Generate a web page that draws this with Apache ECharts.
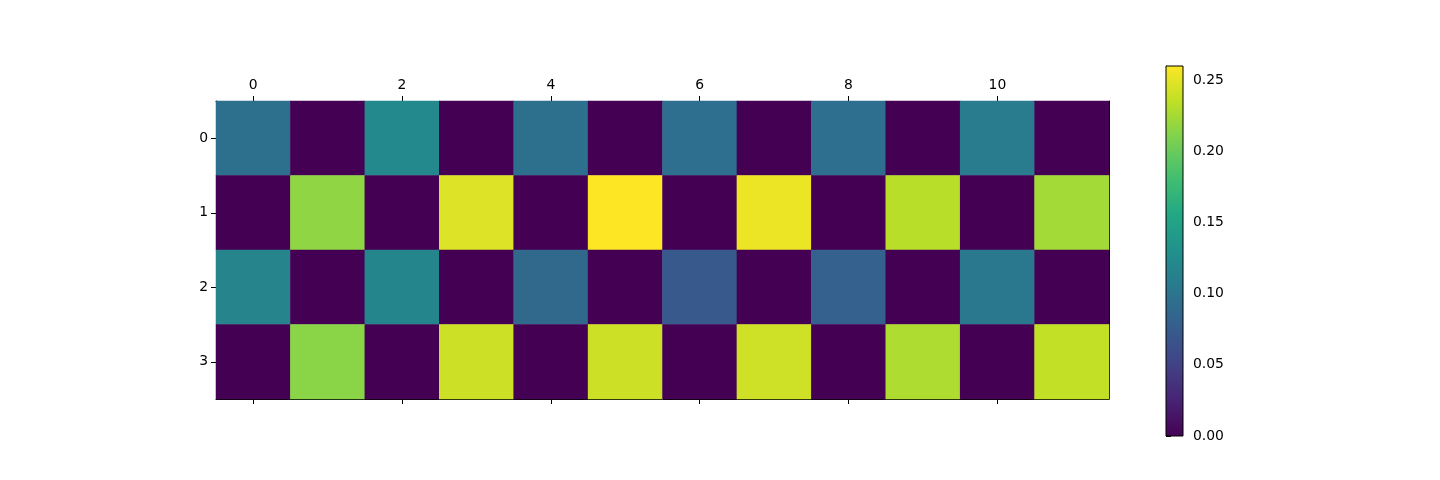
<!DOCTYPE html>
<html>
<head>
<meta charset="utf-8">
<script src="https://cdn.jsdelivr.net/npm/echarts@6/dist/echarts.min.js"></script>
<style>html,body{margin:0;padding:0;background:#fff}#c{width:1440px;height:480px}</style>
</head>
<body>
<div id="c"></div>
<script>
const colLabels = ['0','1','2','3','4','5','6','7','8','9','10','11'];
const rowLabels = ['0','1','2','3'];
const row0 = [0.096, 0, 0.122, 0, 0.096, 0, 0.094, 0, 0.094, 0, 0.107, 0];
const row1 = [0, 0.216, 0, 0.247, 0, 0.260, 0, 0.253, 0, 0.232, 0, 0.224];
const row2 = [0.116, 0, 0.118, 0, 0.088, 0, 0.072, 0, 0.080, 0, 0.104, 0];
const row3 = [0, 0.214, 0, 0.240, 0, 0.240, 0, 0.241, 0, 0.228, 0, 0.236];
const cbMin = 0, cbMax = 0.26;
const cbTicks = [0, 0.05, 0.10, 0.15, 0.20, 0.25];
const viridis = ['#440154','#482475','#414487','#355f8d','#2a788e','#21918c','#22a884','#44bf70','#7ad151','#bddf26','#fde725'];

const rows = [row0, row1, row2, row3];
const cells = [];
rows.forEach((r, yi) => r.forEach((v, xi) => cells.push([xi, yi, v])));

const font = 'DejaVu Sans';
const fs = 13.9;
const evenOnly = (i) => i % 2 === 0;
const lineStyle = {color: '#000', width: 1};

const chart = echarts.init(document.getElementById('c'), null, {renderer: 'canvas'});
chart.setOption({
  animation: false,
  backgroundColor: '#fff',
  grid: [
    {left: 216, top: 101, width: 893, height: 298},
    {left: 1166, top: 66, width: 17, height: 370}
  ],
  xAxis: [
    {type: 'category', gridIndex: 0, data: colLabels, position: 'top',
     axisLine: {show: true, lineStyle},
     axisTick: {show: true, alignWithLabel: true, interval: (i) => evenOnly(i), length: 5, lineStyle},
     axisLabel: {show: true, interval: (i) => evenOnly(i), margin: 9, color: '#000', fontFamily: font, fontSize: fs},
     splitLine: {show: false}},
    {type: 'category', gridIndex: 0, data: colLabels, position: 'bottom',
     axisLine: {show: true, lineStyle},
     axisTick: {show: true, alignWithLabel: true, interval: (i) => evenOnly(i), length: 5, lineStyle},
     axisLabel: {show: false},
     splitLine: {show: false}},
    {type: 'value', gridIndex: 1, min: 0, max: 1, show: false}
  ],
  yAxis: [
    {type: 'category', gridIndex: 0, data: rowLabels, inverse: true, position: 'left',
     axisLine: {show: true, lineStyle},
     axisTick: {show: true, alignWithLabel: true, length: 5, lineStyle},
     axisLabel: {show: true, margin: 8, color: '#000', fontFamily: font, fontSize: fs},
     splitLine: {show: false}},
    {type: 'category', gridIndex: 0, data: rowLabels, inverse: true, position: 'right',
     axisLine: {show: true, lineStyle},
     axisTick: {show: false}, axisLabel: {show: false}, splitLine: {show: false}},
    {type: 'value', gridIndex: 1, min: cbMin, max: cbMax, interval: 0.05, position: 'right',
     axisLine: {show: true, lineStyle},
     axisTick: {show: true, length: 5, lineStyle},
     axisLabel: {show: true, margin: 10, color: '#000', fontFamily: font, fontSize: fs,
                 formatter: (v) => cbTicks.some(t => Math.abs(t - v) < 1e-9) ? v.toFixed(2) : ''},
     splitLine: {show: false}}
  ],
  visualMap: {
    type: 'continuous', show: false, min: cbMin, max: cbMax, dimension: 2, seriesIndex: 0,
    inRange: {color: viridis}
  },
  series: [
    {type: 'heatmap', xAxisIndex: 0, yAxisIndex: 0, data: cells, itemStyle: {borderWidth: 0}, emphasis: {disabled: true}},
    {type: 'custom', xAxisIndex: 2, yAxisIndex: 2, data: [[0, cbMin, 1, cbMax]], z: 1,
     renderItem: (params, api) => {
       const p0 = api.coord([api.value(0), api.value(1)]);
       const p1 = api.coord([api.value(2), api.value(3)]);
       return {
         type: 'rect',
         shape: {x: p0[0], y: p1[1], width: p1[0] - p0[0], height: p0[1] - p1[1]},
         style: {
           fill: new echarts.graphic.LinearGradient(0, 1, 0, 0,
             viridis.map((c, i) => ({offset: i / (viridis.length - 1), color: c}))),
           stroke: '#000', lineWidth: 1
         }
       };
     }}
  ]
});
</script>
</body>
</html>
